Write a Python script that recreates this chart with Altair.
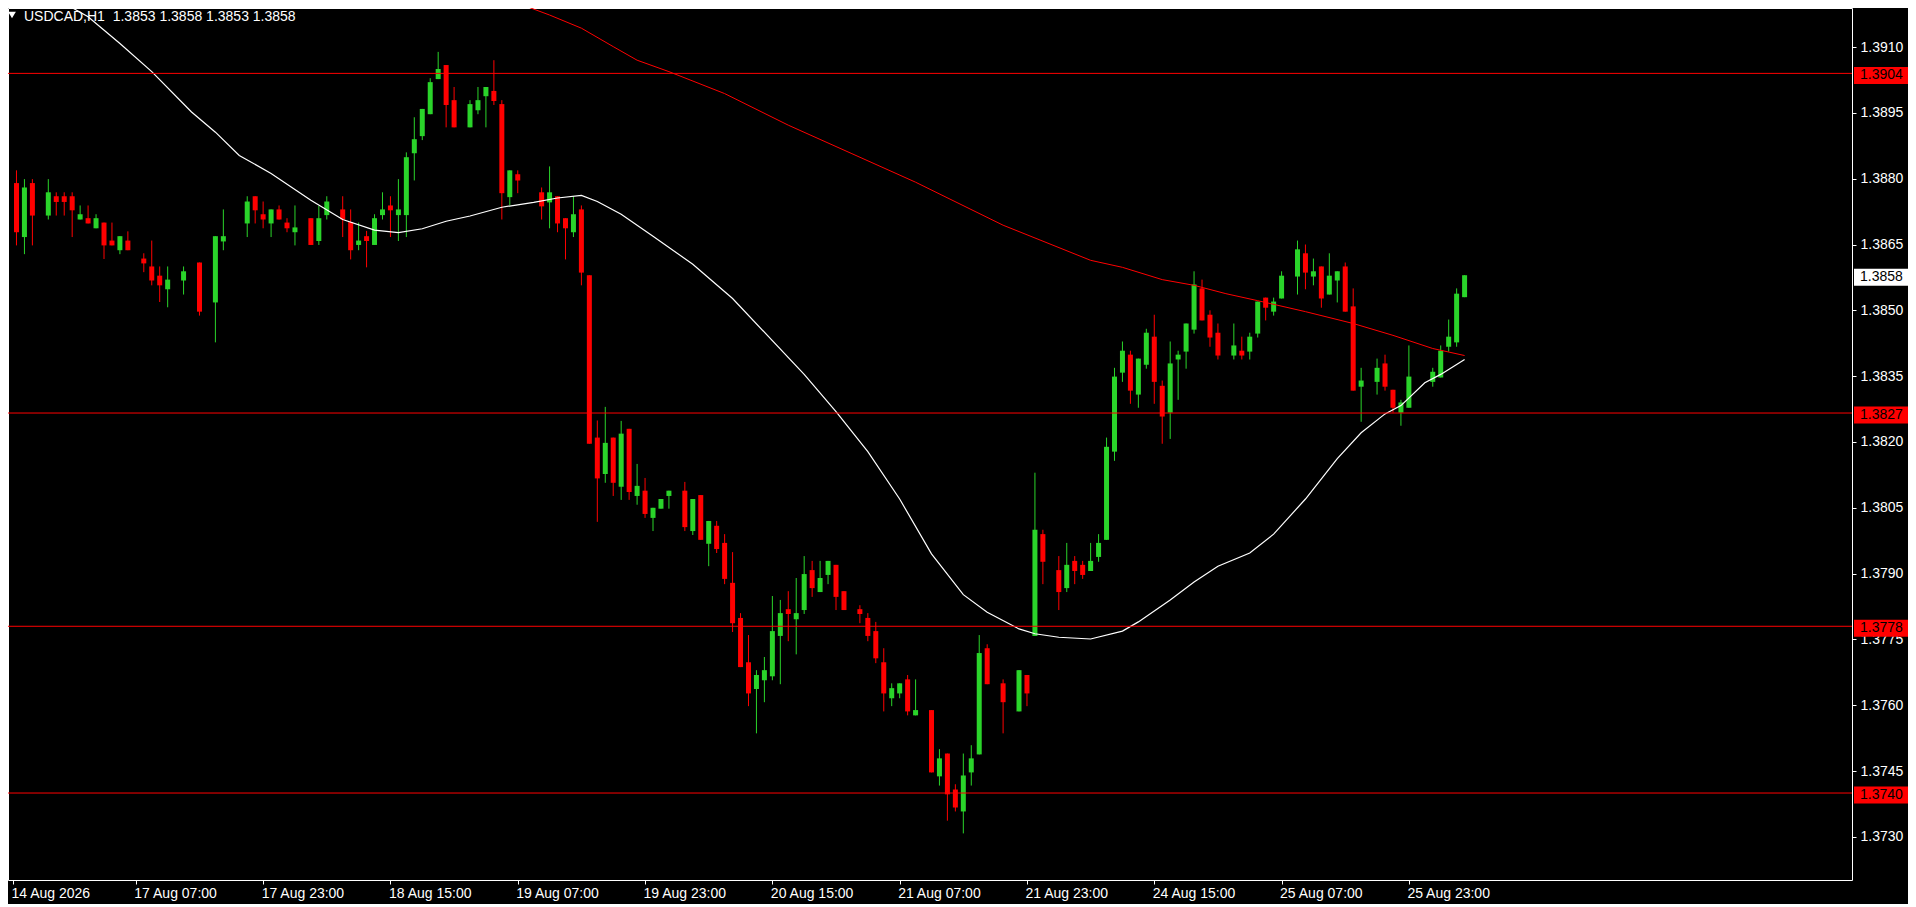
import altair as alt
import pandas as pd

# ---------------- data ----------------
bars = [0, 1, 2, 4, 5, 6, 7, 8, 9, 10, 11, 12, 13, 14, 16, 17, 18, 19, 21, 23, 25, 26, 29, 30, 31, 32, 33, 34, 35,
        37, 38, 39, 41, 42, 43, 44, 45, 46, 47, 48, 49, 50, 51, 52, 53, 54, 55, 57, 58, 59, 60, 61, 62, 63,
        66, 67, 68, 69, 70, 71, 72, 73, 74, 75, 76, 77, 78, 79, 80, 81, 82, 84, 85, 86, 87, 88, 89, 90, 91,
        92, 93, 94, 95, 96, 97, 98, 99, 100, 101, 102, 103, 104, 106, 107, 108, 109, 110, 111, 112, 113,
        115, 116, 117, 118, 119, 120, 121, 122, 124, 126, 127, 128, 129, 131, 132, 133, 134, 135, 136, 137,
        138, 139, 140, 141, 142, 143, 144, 145, 146, 147, 148, 149, 150, 151, 153, 154, 155, 156, 157, 158,
        159, 161, 162, 163, 164, 165, 166, 167, 168, 169, 171, 172, 173, 174, 175, 178, 179, 180, 181, 182]
opens = [1.38790, 1.38667, 1.38790, 1.38716, 1.38760, 1.38760, 1.38760, 1.38707, 1.38710, 1.38687, 1.38700,
         1.38659, 1.38637, 1.38659, 1.38618, 1.38600, 1.38579, 1.38548, 1.38568, 1.38609, 1.38518, 1.38657,
         1.38698, 1.38760, 1.38719, 1.38698, 1.38730, 1.38700, 1.38678,
         1.38710, 1.38658, 1.38717, 1.38730, 1.38701, 1.38649, 1.38669, 1.38649, 1.38717, 1.38739, 1.38717,
         1.38717, 1.38858, 1.38897, 1.38947, 1.39027, 1.39059, 1.38979, 1.38917, 1.38956, 1.38988, 1.39000,
         1.38970, 1.38758, 1.38810,
         1.38769, 1.38746, 1.38760, 1.38710, 1.38678, 1.38730, 1.38580, 1.38210, 1.38127, 1.38210, 1.38098,
         1.38230, 1.38077, 1.38089, 1.38027, 1.38048, 1.38077, 1.38089, 1.37997, 1.38079, 1.37968, 1.38009,
         1.37970, 1.37879, 1.37799,
         1.37698, 1.37637, 1.37657, 1.37666, 1.37758, 1.37819, 1.37796, 1.37817, 1.37908, 1.37858, 1.37897,
         1.37920, 1.37860, 1.37819, 1.37799, 1.37769, 1.37698, 1.37616, 1.37627, 1.37659, 1.37577,
         1.37589, 1.37438, 1.37490, 1.37408, 1.37358, 1.37447, 1.37488, 1.37730, 1.37650, 1.37586, 1.37669,
         1.37758, 1.37990, 1.37908, 1.37867, 1.37929, 1.37920, 1.37906, 1.37938, 1.37977,
         1.38178, 1.38358, 1.38399, 1.38308, 1.38376, 1.38440, 1.38328, 1.38267, 1.38388, 1.38406, 1.38456,
         1.38550, 1.38490, 1.38449, 1.38397, 1.38408, 1.38406, 1.38447, 1.38529, 1.38497,
         1.38527, 1.38577, 1.38630, 1.38577, 1.38600, 1.38536, 1.38568, 1.38600, 1.38509, 1.38326, 1.38337,
         1.38379, 1.38319, 1.38267, 1.38278, 1.38337, 1.38347, 1.38417, 1.38427, 1.38530]
highs = [1.38819, 1.38799, 1.38799, 1.38799, 1.38769, 1.38769, 1.38769, 1.38739, 1.38739, 1.38719, 1.38700,
         1.38700, 1.38669, 1.38680, 1.38630, 1.38659, 1.38600, 1.38600, 1.38600, 1.38609, 1.38669, 1.38730,
         1.38760, 1.38760, 1.38748, 1.38730, 1.38739, 1.38710, 1.38739,
         1.38710, 1.38738, 1.38760, 1.38760, 1.38730, 1.38700, 1.38681, 1.38719, 1.38769, 1.38760, 1.38799,
         1.38860, 1.38940, 1.38959, 1.39029, 1.39089, 1.39059, 1.39009, 1.38979, 1.39009, 1.39009, 1.39070,
         1.38979, 1.38819, 1.38819,
         1.38780, 1.38828, 1.38760, 1.38710, 1.38760, 1.38739, 1.38580, 1.38249, 1.38280, 1.38210, 1.38248,
         1.38230, 1.38150, 1.38118, 1.38050, 1.38070, 1.38089, 1.38109, 1.38070, 1.38079, 1.38020, 1.38020,
         1.37990, 1.37949, 1.37810,
         1.37760, 1.37680, 1.37710, 1.37849, 1.37840, 1.37860, 1.37890, 1.37940, 1.37929, 1.37929, 1.37929,
         1.37920, 1.37860, 1.37828, 1.37810, 1.37790, 1.37730, 1.37650, 1.37650, 1.37669, 1.37659,
         1.37589, 1.37500, 1.37490, 1.37420, 1.37490, 1.37509, 1.37760, 1.37739, 1.37659, 1.37680, 1.37669,
         1.38130, 1.38000, 1.37940, 1.37970, 1.37940, 1.37929, 1.37970, 1.37990, 1.38210,
         1.38369, 1.38429, 1.38408, 1.38390, 1.38458, 1.38490, 1.38340, 1.38429, 1.38408, 1.38470, 1.38589,
         1.38570, 1.38500, 1.38470, 1.38470, 1.38440, 1.38449, 1.38520, 1.38529, 1.38529,
         1.38589, 1.38659, 1.38650, 1.38618, 1.38600, 1.38630, 1.38589, 1.38609, 1.38550, 1.38369, 1.38390,
         1.38399, 1.38319, 1.38296, 1.38420, 1.38369, 1.38420, 1.38479, 1.38550, 1.38580]
lows = [1.38648, 1.38628, 1.38648, 1.38707, 1.38716, 1.38716, 1.38667, 1.38707, 1.38698, 1.38687, 1.38617,
        1.38648, 1.38628, 1.38637, 1.38587, 1.38557, 1.38519, 1.38507, 1.38536, 1.38488, 1.38427, 1.38637,
        1.38667, 1.38698, 1.38687, 1.38667, 1.38707, 1.38678, 1.38648,
        1.38649, 1.38649, 1.38707, 1.38667, 1.38616, 1.38637, 1.38598, 1.38649, 1.38707, 1.38667, 1.38658,
        1.38667, 1.38796, 1.38888, 1.38947, 1.39027, 1.38917, 1.38917, 1.38917, 1.38947, 1.38917, 1.38968,
        1.38707, 1.38739, 1.38767,
        1.38707, 1.38687, 1.38678, 1.38616, 1.38667, 1.38557, 1.38196, 1.38018, 1.38107, 1.38077, 1.38068,
        1.38068, 1.38057, 1.38027, 1.37997, 1.38048, 1.38048, 1.37997, 1.37988, 1.37977, 1.37917, 1.37947,
        1.37876, 1.37767, 1.37687,
        1.37598, 1.37536, 1.37607, 1.37657, 1.37648, 1.37746, 1.37716, 1.37808, 1.37847, 1.37858, 1.37876,
        1.37817, 1.37817, 1.37787, 1.37746, 1.37696, 1.37586, 1.37598, 1.37616, 1.37577, 1.37577,
        1.37447, 1.37417, 1.37337, 1.37358, 1.37308, 1.37417, 1.37488, 1.37648, 1.37536, 1.37586, 1.37598,
        1.37758, 1.37876, 1.37817, 1.37858, 1.37876, 1.37888, 1.37906, 1.37927, 1.37977,
        1.38157, 1.38337, 1.38287, 1.38278, 1.38367, 1.38287, 1.38196, 1.38207, 1.38296, 1.38367, 1.38447,
        1.38477, 1.38417, 1.38388, 1.38388, 1.38388, 1.38388, 1.38438, 1.38477, 1.38488,
        1.38527, 1.38536, 1.38548, 1.38557, 1.38506, 1.38536, 1.38518, 1.38497, 1.38317, 1.38246, 1.38308,
        1.38317, 1.38267, 1.38237, 1.38278, 1.38326, 1.38347, 1.38406, 1.38417, 1.38530]
closes = [1.38678, 1.38780, 1.38716, 1.38769, 1.38747, 1.38747, 1.38728, 1.38719, 1.38698, 1.38710, 1.38648,
          1.38648, 1.38669, 1.38637, 1.38607, 1.38568, 1.38557, 1.38570, 1.38589, 1.38497, 1.38669, 1.38669,
          1.38748, 1.38728, 1.38707, 1.38730, 1.38707, 1.38687, 1.38689,
          1.38649, 1.38710, 1.38748, 1.38707, 1.38637, 1.38659, 1.38658, 1.38710, 1.38730, 1.38728, 1.38730,
          1.38849, 1.38890, 1.38959, 1.39020, 1.39050, 1.38968, 1.38917, 1.38970, 1.38979, 1.39009, 1.38977,
          1.38767, 1.38819, 1.38796,
          1.38737, 1.38769, 1.38698, 1.38687, 1.38719, 1.38586, 1.38196, 1.38117, 1.38198, 1.38107, 1.38219,
          1.38086, 1.38100, 1.38036, 1.38050, 1.38070, 1.38089, 1.38006, 1.38070, 1.37977, 1.38020, 1.37956,
          1.37888, 1.37787, 1.37687,
          1.37627, 1.37669, 1.37680, 1.37769, 1.37810, 1.37808, 1.37810, 1.37899, 1.37867, 1.37890, 1.37929,
          1.37847, 1.37817, 1.37808, 1.37758, 1.37707, 1.37627, 1.37639, 1.37650, 1.37586, 1.37589,
          1.37447, 1.37479, 1.37397, 1.37367, 1.37440, 1.37479, 1.37719, 1.37648, 1.37607, 1.37680, 1.37627,
          1.38000, 1.37927, 1.37858, 1.37920, 1.37906, 1.37897, 1.37929, 1.37970, 1.38189,
          1.38349, 1.38408, 1.38317, 1.38390, 1.38449, 1.38337, 1.38258, 1.38379, 1.38399, 1.38470, 1.38559,
          1.38477, 1.38438, 1.38397, 1.38420, 1.38397, 1.38440, 1.38520, 1.38506, 1.38520,
          1.38579, 1.38639, 1.38586, 1.38589, 1.38527, 1.38579, 1.38589, 1.38497, 1.38317, 1.38340, 1.38369,
          1.38326, 1.38278, 1.38290, 1.38349, 1.38360, 1.38408, 1.38440, 1.38538, 1.38580]

ma_fast_bars = [6, 9, 13, 17, 22, 25, 28, 32, 37, 41, 45, 48, 51, 54, 57, 61, 65, 68, 71, 73, 76, 80, 85, 90,
                99, 103, 107, 111, 115, 119, 122, 126, 128, 131, 135, 139, 141, 145, 148, 151, 155, 158, 162,
                166, 169, 172, 174, 177, 179, 182]
ma_fast_vals = [1.39200, 1.39169, 1.39108, 1.39044, 1.38952, 1.38906, 1.38853, 1.38812, 1.38751, 1.38707,
                1.38683, 1.38677, 1.38686, 1.38703, 1.38715, 1.38735, 1.38746, 1.38756, 1.38762, 1.38748,
                1.38719, 1.38669, 1.38605, 1.38527, 1.38354, 1.38269, 1.38178, 1.38070, 1.37945, 1.37852,
                1.37812, 1.37774, 1.37763, 1.37755, 1.37751, 1.37769, 1.37790, 1.37840, 1.37881, 1.37917,
                1.37947, 1.37990, 1.38070, 1.38162, 1.38221, 1.38264, 1.38283, 1.38335, 1.38354, 1.38388]
ma_slow_bars = [63, 67, 71, 75, 78, 82, 89, 97, 105, 113, 124, 135, 139, 144, 148, 152, 156, 162, 168, 173,
                178, 182]
ma_slow_vals = [1.39200, 1.39173, 1.39143, 1.39101, 1.39070, 1.39044, 1.38994, 1.38922, 1.38857, 1.38792,
                1.38694, 1.38614, 1.38598, 1.38570, 1.38557, 1.38538, 1.38522, 1.38497, 1.38470, 1.38443,
                1.38413, 1.38397]

level_values = [1.39040, 1.38266, 1.37780, 1.37400]
level_labels = ["1.3904", "1.3827", "1.3778", "1.3740"]
last_price = 1.38580
last_label = "1.3858"

y_ticks = [1.3730, 1.3745, 1.3760, 1.3775, 1.3790, 1.3805, 1.3820, 1.3835, 1.3850, 1.3865, 1.3880, 1.3895, 1.3910]
x_tick_bars = [-0.4375, 15, 31, 47, 63, 79, 95, 111, 127, 143, 159, 175]
x_tick_labels = ["14 Aug 2026", "17 Aug 07:00", "17 Aug 23:00", "18 Aug 15:00", "19 Aug 07:00",
                 "19 Aug 23:00", "20 Aug 15:00", "21 Aug 07:00", "21 Aug 23:00", "24 Aug 15:00",
                 "25 Aug 07:00", "25 Aug 23:00"]
title_text = "USDCAD,H1\u00a0 1.3853 1.3858 1.3853 1.3858"

# ---------------- build chart ----------------
UP = "#2ad42a"
DOWN = "#ff0000"
FONT = "Liberation Sans"

candles = pd.DataFrame({"bar": bars, "open": opens, "high": highs, "low": lows, "close": closes})
candles["color"] = [UP if c > o else DOWN for o, c in zip(opens, closes)]
fast = pd.DataFrame({"bar": ma_fast_bars, "price": ma_fast_vals})
slow = pd.DataFrame({"bar": ma_slow_bars, "price": ma_slow_vals})
levels = pd.DataFrame({"price": level_values, "label": level_labels})
last = pd.DataFrame({"price": [last_price], "label": [last_label]})

label_expr = "[" + ",".join("'" + s + "'" for s in x_tick_labels) + "][floor((datum.value + 1) / 16)]"

xscale = alt.Scale(domain=[-0.4375, 230.0625], nice=False, zero=False)
yscale = alt.Scale(domain=[1.372018, 1.391890], nice=False, zero=False)

x_axis = alt.Axis(values=x_tick_bars, labelExpr=label_expr, title=None, grid=False, domain=False,
                  tickColor="white", tickSize=4, labelColor="white", labelFont=FONT, labelFontSize=14,
                  labelAlign="left", labelBaseline="top", labelPadding=2, labelFlush=False,
                  labelOverlap=False, labelBound=False, labelOffset=-2)
y_axis = alt.Axis(values=y_ticks, format=".4f", orient="right", title=None, grid=False, domain=False,
                  tickColor="white", tickSize=4, labelColor="white", labelFont=FONT, labelFontSize=14,
                  labelPadding=4, labelOverlap=False, labelFlush=False, labelBound=False)

X = alt.X("bar:Q", scale=xscale, axis=x_axis)

wicks = alt.Chart(candles).mark_rule(strokeWidth=1).encode(
    x=X,
    y=alt.Y("low:Q", scale=yscale, axis=y_axis),
    y2="high:Q",
    color=alt.Color("color:N", scale=None),
)
bodies = alt.Chart(candles).mark_bar(size=5).encode(
    x=alt.X("bar:Q", scale=xscale),
    y=alt.Y("open:Q", scale=yscale),
    y2="close:Q",
    color=alt.Color("color:N", scale=None),
)
fast_line = alt.Chart(fast).mark_line(color="#ffffff", strokeWidth=1.2, clip=True).encode(
    x=alt.X("bar:Q", scale=xscale), y=alt.Y("price:Q", scale=yscale))
slow_line = alt.Chart(slow).mark_line(color="#ff0000", strokeWidth=1, clip=True).encode(
    x=alt.X("bar:Q", scale=xscale), y=alt.Y("price:Q", scale=yscale))
hlines = alt.Chart(levels).mark_rule(color="#ff0000", strokeWidth=1).encode(
    y=alt.Y("price:Q", scale=yscale))

boxes = alt.Chart(levels).mark_rect(color="#ff0000", height=17, yOffset=2).encode(
    x=alt.value(1846), x2=alt.value(1900), y=alt.Y("price:Q", scale=yscale))
box_text = alt.Chart(levels).mark_text(align="left", baseline="middle", font=FONT, fontSize=14,
                                       color="#000000", yOffset=2).encode(
    x=alt.value(1852), y=alt.Y("price:Q", scale=yscale), text="label:N")
last_box = alt.Chart(last).mark_rect(color="#ffffff", height=17, yOffset=2).encode(
    x=alt.value(1846), x2=alt.value(1900), y=alt.Y("price:Q", scale=yscale))
last_text = alt.Chart(last).mark_text(align="left", baseline="middle", font=FONT, fontSize=14,
                                      color="#000000", yOffset=2).encode(
    x=alt.value(1852), y=alt.Y("price:Q", scale=yscale), text="label:N")

title_df = pd.DataFrame({"t": [title_text]})
title = alt.Chart(title_df).mark_text(align="left", baseline="middle", font=FONT, fontSize=14,
                                      color="#ffffff").encode(
    x=alt.value(16), y=alt.value(9), text="t:N")
tri = alt.Chart(title_df).mark_point(shape="triangle-down", filled=True, size=60, color="#ffffff",
                                     opacity=1).encode(x=alt.value(4), y=alt.value(7))

chart = alt.layer(
    wicks, bodies, fast_line, slow_line, hlines, boxes, box_text, last_box, last_text, title, tri
).properties(
    width=1844, height=872,
    padding={"left": 0, "top": 0, "right": 56, "bottom": 24},
    autosize=alt.AutoSizeParams(type="none"),
    background="#000000",
).configure_view(stroke="#ffffff", strokeWidth=1, fill="#000000")

chart.save("out.html", embed_options={"renderer": "svg", "actions": False})
